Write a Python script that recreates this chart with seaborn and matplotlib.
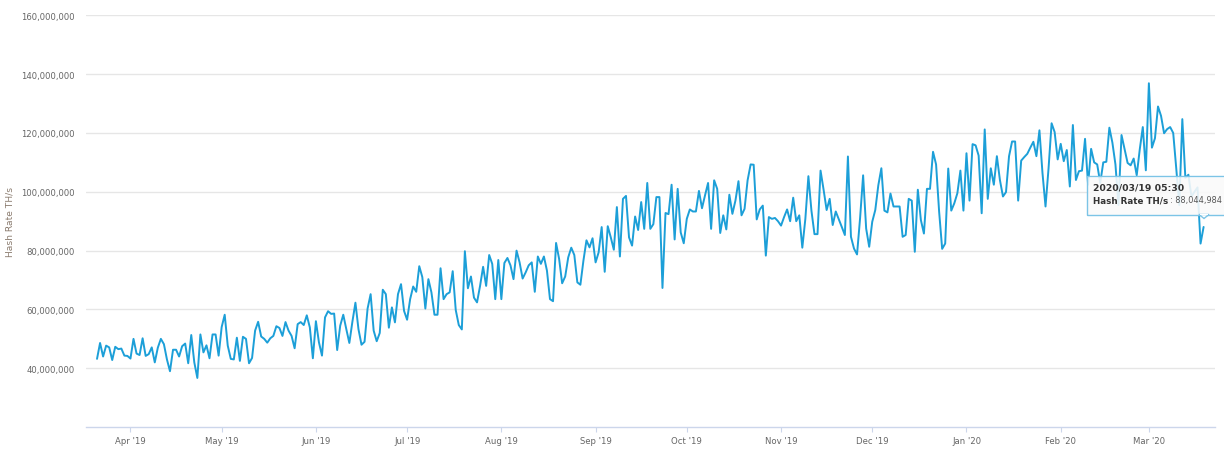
#!/usr/bin/env python3
"""Plot daily bitcoin hash rate with a hover tooltip on the last point."""

from __future__ import annotations

import matplotlib

matplotlib.use("Agg")

import matplotlib.dates as mdates
import matplotlib.pyplot as plt
import pandas as pd
import seaborn as sns
from matplotlib.patches import Polygon, Rectangle
from matplotlib.ticker import FuncFormatter

START_DATE = "2019-03-21"
Y_TICKS = [40e6, 60e6, 80e6, 100e6, 120e6, 140e6, 160e6]
TOOLTIP_DATE = "2020/03/19 05:30"
TOOLTIP_NAME = "Hash Rate TH/s"
TOOLTIP_VALUE = ": 88,044,984"

# million TH/s, one row per ten days
HASH_RATE = [
    43.2, 48.6, 44.0, 47.7, 47.1, 42.8, 47.3, 46.5, 46.7, 44.3,
    44.2, 43.3, 50.0, 45.0, 44.5, 50.2, 44.2, 44.8, 47.1, 42.0,
    47.0, 50.0, 48.2, 43.0, 39.0, 46.3, 46.3, 44.0, 47.5, 48.4,
    41.7, 51.3, 42.0, 36.7, 51.5, 45.4, 47.8, 43.4, 51.5, 51.5,
    44.3, 54.0, 58.2, 47.7, 43.2, 43.0, 50.4, 42.5, 50.7, 50.0,
    41.7, 43.5, 52.8, 55.8, 50.8, 50.0, 48.7, 50.2, 51.0, 54.3,
    53.7, 51.0, 55.7, 52.8, 51.0, 46.8, 55.0, 55.7, 54.7, 58.0,
    53.9, 43.4, 56.0, 48.8, 44.3, 57.3, 59.4, 58.5, 58.6, 46.2,
    54.5, 58.2, 53.3, 48.6, 55.8, 62.3, 53.3, 48.0, 49.0, 60.3,
    65.2, 52.8, 49.2, 52.0, 66.7, 65.2, 53.8, 60.7, 55.6, 65.2,
    68.6, 59.5, 56.5, 63.5, 67.8, 66.0, 74.7, 71.0, 60.3, 70.3,
    65.8, 58.2, 58.2, 74.0, 63.5, 65.2, 65.8, 73.0, 59.8, 54.7,
    53.2, 79.8, 67.2, 71.2, 64.0, 62.4, 68.0, 74.5, 68.0, 78.5,
    75.5, 63.5, 76.8, 63.5, 75.8, 77.5, 75.0, 70.3, 80.0, 76.0,
    70.5, 72.6, 75.0, 76.0, 66.0, 78.0, 75.5, 78.0, 73.2, 63.5,
    62.8, 82.6, 77.2, 68.9, 71.2, 77.7, 81.0, 78.5, 69.2, 68.4,
    76.6, 83.5, 81.1, 84.2, 76.0, 79.4, 88.0, 72.8, 88.3, 84.5,
    80.3, 94.8, 78.0, 97.6, 98.6, 84.5, 81.7, 91.6, 87.0, 96.5,
    87.4, 103.0, 87.4, 89.0, 98.2, 98.2, 67.3, 92.8, 92.4, 102.4,
    83.8, 101.0, 86.2, 82.5, 90.8, 94.0, 93.3, 93.3, 100.3, 94.4,
    98.8, 103.0, 87.4, 103.9, 101.0, 86.0, 92.0, 87.2, 99.0, 92.5,
    97.0, 103.6, 92.0, 94.2, 103.9, 109.3, 109.2, 90.6, 94.0, 95.3,
    78.3, 91.4, 90.8, 91.1, 90.0, 88.5, 91.4, 94.0, 90.0, 98.0,
    90.0, 92.0, 81.0, 90.8, 105.3, 93.6, 85.6, 85.6, 107.2, 100.7,
    93.8, 97.6, 88.7, 93.3, 90.7, 88.0, 85.3, 112.0, 84.7, 80.7,
    78.7, 91.0, 105.6, 87.5, 81.3, 89.8, 93.8, 102.2, 108.0, 93.6,
    93.0, 99.4, 95.0, 95.0, 95.0, 84.7, 85.3, 97.6, 97.0, 79.6,
    100.7, 90.4, 85.8, 101.0, 101.0, 113.6, 109.3, 93.3, 80.6, 82.4,
    107.9, 93.6, 96.1, 99.5, 107.2, 93.6, 113.1, 97.0, 116.2, 115.8,
    112.3, 92.7, 121.2, 97.6, 108.0, 102.4, 112.1, 104.0, 98.4, 99.9,
    112.1, 117.1, 117.1, 97.0, 110.6, 111.8, 112.9, 115.0, 117.0, 112.1,
    120.9, 106.4, 95.0, 108.0, 123.3, 120.3, 111.0, 116.3, 110.4, 114.2,
    101.8, 122.7, 104.0, 107.0, 107.2, 118.0, 102.4, 114.6, 110.0, 109.3,
    103.0, 110.0, 110.2, 121.8, 116.7, 109.3, 95.5, 119.3, 114.6, 109.8,
    109.0, 111.3, 105.6, 114.4, 122.0, 107.3, 136.9, 115.0, 118.2, 129.0,
    125.8, 119.9, 121.3, 122.0, 120.0, 108.0, 95.5, 124.7, 104.7, 105.8,
    98.4, 100.0, 101.5, 82.4, 88.04,
]

WIDTH, HEIGHT = 1224, 452
LINE_COLOR = "#1c9fd8"
GRID_COLOR = "#e6e6e6"
AXIS_COLOR = "#ccd6eb"
TICK_TEXT = "#666666"
LABEL_TEXT = "#8a7b6e"
TOOLTIP_EDGE = "#7cc4e6"


def add_tooltip(fig: plt.Figure) -> None:
    # everything here is placed in figure pixels, y counted from the top
    def fx(x: float) -> float:
        return x / WIDTH

    def fy(y: float) -> float:
        return 1 - y / HEIGHT

    shadow = Rectangle(
        (fx(1088), fy(217)), fx(150), 38 / HEIGHT,
        transform=fig.transFigure, facecolor="#888888", alpha=0.25,
        edgecolor="none", zorder=4,
    )
    box = Rectangle(
        (fx(1087), fy(215.5)), fx(150), 38.5 / HEIGHT,
        transform=fig.transFigure, facecolor="white", alpha=0.85,
        edgecolor="none", zorder=5,
    )
    edge = Rectangle(
        (fx(1087), fy(215.5)), fx(150), 38.5 / HEIGHT,
        transform=fig.transFigure, facecolor="none", edgecolor=TOOLTIP_EDGE,
        linewidth=1.0, zorder=6,
    )
    tail = Polygon(
        [(fx(1199), fy(215.5)), (fx(1204), fy(219.5)), (fx(1209), fy(215.5))],
        transform=fig.transFigure, facecolor="white", edgecolor=TOOLTIP_EDGE,
        linewidth=1.0, zorder=7,
    )
    cover = Rectangle(
        (fx(1200), fy(216)), fx(8), 1.5 / HEIGHT,
        transform=fig.transFigure, facecolor="white", edgecolor="none", zorder=8,
    )
    for patch in (shadow, box, edge, tail, cover):
        fig.add_artist(patch)

    fig.text(fx(1093), fy(188), TOOLTIP_DATE, fontsize=6.7, fontweight="bold",
             color="#333333", va="center", zorder=9)
    fig.text(fx(1093), fy(200.5), TOOLTIP_NAME, fontsize=6.35, fontweight="bold",
             color="#333333", va="center", zorder=9)
    fig.text(fx(1170), fy(200.5), TOOLTIP_VALUE, fontsize=5.9,
             color="#555555", va="center", zorder=9)


def plot_hash_rate(output: str) -> None:
    sns.set_theme(style="white")
    df = pd.DataFrame({
        "date": pd.date_range(START_DATE, periods=len(HASH_RATE), freq="D"),
        "hash_rate": [v * 1e6 for v in HASH_RATE],
    })

    fig = plt.figure(figsize=(WIDTH / 100, HEIGHT / 100), dpi=100, facecolor="white")
    ax = fig.add_axes([86 / WIDTH, 1 - 428.1 / HEIGHT, (1215 - 86) / WIDTH, (428.1 - 16.3) / HEIGHT])

    sns.lineplot(data=df, x="date", y="hash_rate", ax=ax, color=LINE_COLOR,
                 linewidth=1.4, errorbar=None, zorder=3)

    ax.set_ylim(20e6, 160e6)
    ax.set_xlim(pd.Timestamp("2019-03-17 09:00"), pd.Timestamp("2020-03-22 18:00"))
    ax.set_yticks(Y_TICKS)
    ax.yaxis.set_major_formatter(FuncFormatter(lambda v, _: f"{v:,.0f}"))
    ax.xaxis.set_major_locator(mdates.MonthLocator())
    ax.xaxis.set_major_formatter(mdates.DateFormatter("%b '%y"))
    ax.set_xlabel("")
    ax.set_ylabel("Hash Rate TH/s", fontsize=6.6, color=LABEL_TEXT)
    ax.yaxis.set_label_coords((15 - 86) / (1215 - 86), 0.5)

    ax.grid(axis="y", color=GRID_COLOR, linewidth=1.0)
    ax.set_axisbelow(True)
    for side in ("top", "left", "right"):
        ax.spines[side].set_visible(False)
    ax.spines["bottom"].set_color(AXIS_COLOR)
    ax.spines["bottom"].set_linewidth(1.0)
    ax.tick_params(axis="y", length=0, pad=8, labelsize=6.1, labelcolor=TICK_TEXT)
    ax.tick_params(axis="x", length=3.6, width=0.8, color=AXIS_COLOR, bottom=True,
                   pad=3, labelsize=6.1, labelcolor=TICK_TEXT)

    add_tooltip(fig)
    fig.savefig(output, dpi=100)
    plt.close(fig)


def main() -> None:
    plot_hash_rate("out.png")


if __name__ == "__main__":
    main()
